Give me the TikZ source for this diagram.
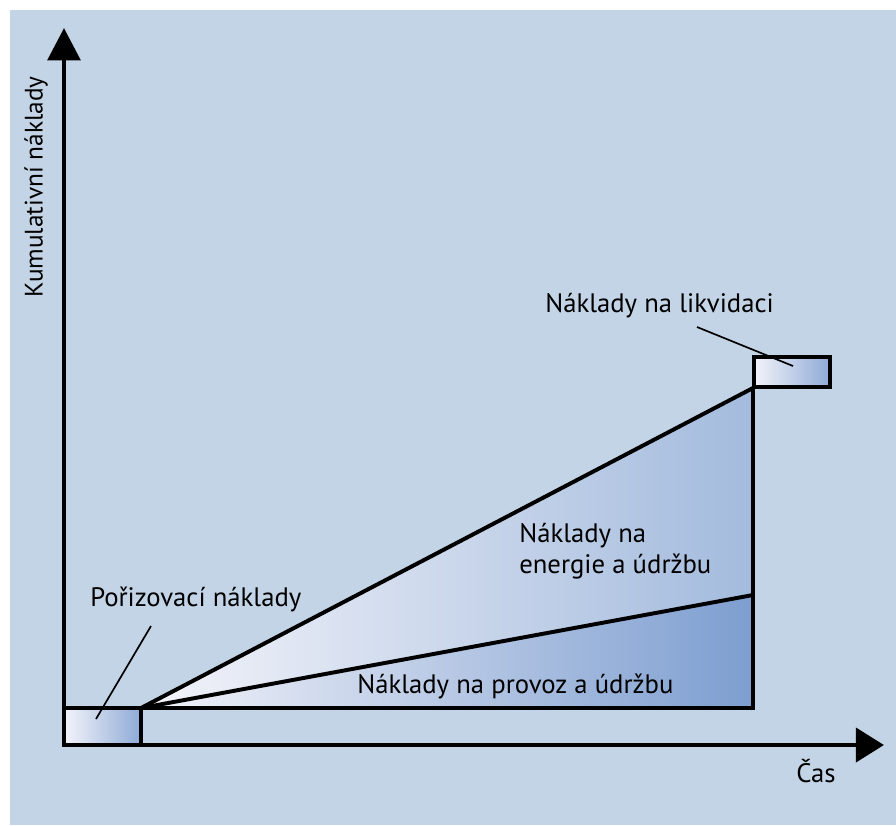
\documentclass[tikz,border=0pt]{standalone}
\usepackage{fontspec}
\setmainfont{PT Sans}
\usetikzlibrary{arrows.meta}

\definecolor{bgblue}{HTML}{C3D4E6}
\definecolor{paleblue}{HTML}{F4F4FA}
\definecolor{lavender}{HTML}{D4DAF0}
\definecolor{midblue}{HTML}{A3BBDD}
\definecolor{deepblue}{HTML}{7D9ED0}
\definecolor{boxblue}{HTML}{8EAAD6}

\begin{document}
\begin{tikzpicture}[x=0.025cm,y=-0.025cm,
    labeltext/.style={inner sep=0pt,anchor=base west,font=\fontsize{19pt}{22pt}\selectfont},
    costbox/.style={draw,line width=2.8pt,left color=paleblue,right color=boxblue,inner sep=0pt},
    edgeline/.style={line width=2.8pt,line join=miter},
    leader/.style={line width=1.2pt}]

\useasboundingbox (0,0) rectangle (896,825);
\fill[bgblue] (10,10) rectangle (896,825);

\coordinate (start) at (141,708);
\coordinate (end) at (753,708);
\coordinate (top) at (753,388);
\coordinate (mid) at (753,595);

\shade[left color=paleblue,right color=midblue]
    (start) -- (end) -- (top) -- cycle;
\shade[left color=paleblue,middle color=lavender!50!midblue,right color=deepblue]
    (start) -- (end) -- (mid) -- cycle;
\draw[edgeline] (top) -- (start) -- (end) -- cycle;
\draw[edgeline] (start) -- (mid);

\node (purchase) at (102.5,726.5) [costbox,minimum width=1.925cm,minimum height=0.925cm] {};
\node (disposal) at (792,372) [costbox,minimum width=1.9cm,minimum height=0.75cm] {};

\coordinate (origin) at (64,745);
\coordinate (ytip) at (64,28);
\coordinate (xtip) at (884,745);
\draw[line width=3.5pt,line join=miter,{Triangle[length=23pt,width=23pt]}-{Triangle[length=20pt,width=24pt]}]
    (ytip) -- (origin) -- (xtip);

\node (purchaselabel) at (90,606) [labeltext] {Pořizovací náklady};
\node (disposallabel) at (545,312) [labeltext] {Náklady na likvidaci};
\node (energylabel) at (519,573) [labeltext,align=left] {Náklady na\\energie a údržbu};
\node (operationlabel) at (357,693) [labeltext] {Náklady na provoz a údržbu};
\node (timelabel) at (796,782) [labeltext] {Čas};
\node (costlabel) at (36,187) [labeltext,anchor=center,rotate=90,font=\fontsize{18pt}{22pt}\selectfont] {Kumulativní náklady};

\coordinate (purchaseleader) at (151,626);
\coordinate (purchasetip) at (96,719);
\coordinate (disposalleader) at (697,327);
\coordinate (disposaltip) at (793,366);
\draw[leader] (purchaseleader) -- (purchasetip);
\draw[leader] (disposalleader) -- (disposaltip);
\end{tikzpicture}
\end{document}
